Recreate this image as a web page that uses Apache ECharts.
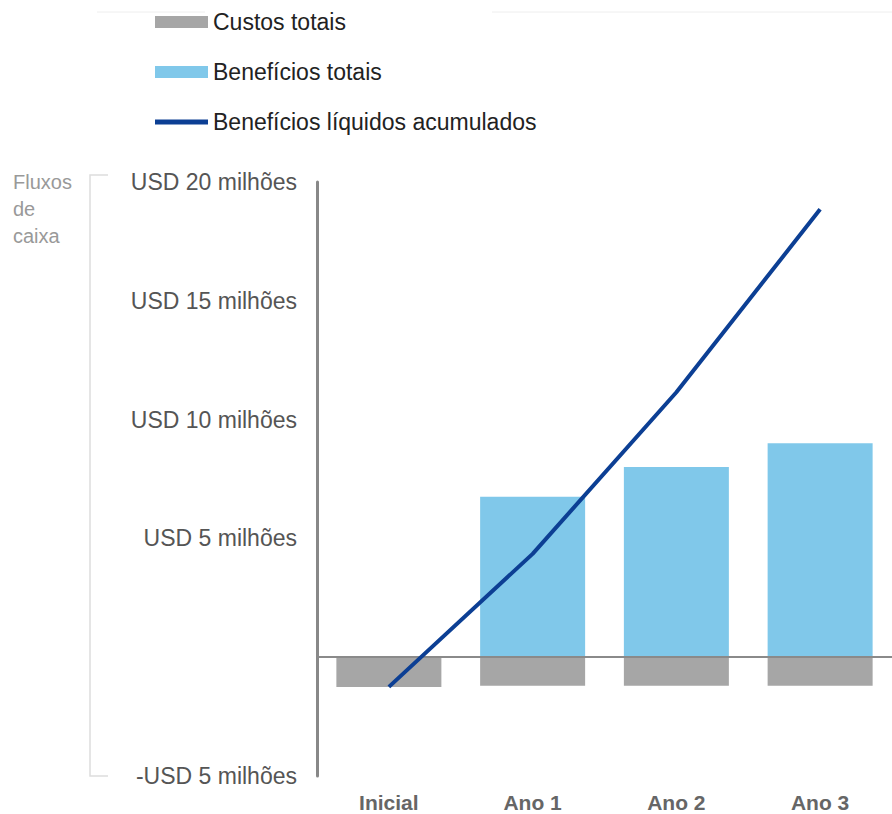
<!DOCTYPE html>
<html>
<head>
    <meta charset="utf-8">
    <title>Fluxos de caixa</title>
    <script src="https://cdn.jsdelivr.net/npm/echarts@6/dist/echarts.min.js"></script>
    <style>
        html, body { margin: 0; padding: 0; background: #fff; }
    </style>
</head>
<body>
    <div id="myChart" style="width: 892px;height:814px;"></div>
    <script>
        // dados (milhões de USD)
        var categories = ['Inicial', 'Ano 1', 'Ano 2', 'Ano 3'];
        var custos = [-1.25, -1.2, -1.2, -1.2];
        var beneficios = [0, 6.75, 8.0, 9.0];
        var acumulados = [-1.25, 4.35, 11.15, 18.85];
        var yTicks = { min: -5, max: 20, step: 5 };

        var FONT = '"Liberation Sans", Arial, sans-serif';
        var myChart = echarts.init(document.getElementById('myChart'), null, { renderer: 'svg' });

        var option = {
            animation: false,
            legend: {
                orient: 'vertical',
                left: 150,
                top: 5,
                itemWidth: 53,
                itemHeight: 12,
                itemGap: 26,
                symbolKeepAspect: true,
                textStyle: { color: '#222', fontSize: 23, fontFamily: FONT, lineHeight: 24 },
                data: [
                    { name: 'Custos totais', icon: 'rect' },
                    { name: 'Benefícios totais', icon: 'rect' },
                    { name: 'Benefícios líquidos acumulados', icon: 'path://M0,0h53v5h-53z' }
                ]
            },
            grid: { left: 317, top: 182, bottom: 38, width: 578 },
            xAxis: {
                type: 'category',
                data: categories,
                axisLine: { show: false, onZero: false },
                axisTick: { show: false },
                axisLabel: { color: '#666', fontSize: 21, fontWeight: 'bold', fontFamily: FONT, margin: 16 }
            },
            yAxis: {
                type: 'value',
                min: yTicks.min,
                max: yTicks.max,
                interval: yTicks.step,
                splitLine: { show: false },
                axisTick: { show: false },
                axisLine: { show: true, lineStyle: { color: '#888', width: 3 } },
                axisLabel: {
                    color: '#555', fontSize: 23, fontFamily: FONT, margin: 20,
                    formatter: function (v) {
                        if (v === 0) return '';
                        return (v < 0 ? '-USD ' : 'USD ') + Math.abs(v) + ' milhões';
                    }
                }
            },
            graphic: [
                {
                    type: 'text', left: 13, top: 168,
                    style: { text: 'Fluxos\nde\ncaixa', fill: '#999', font: '20px ' + FONT, lineHeight: 27 }
                },
                {
                    type: 'polyline',
                    shape: { points: [[108, 175], [90, 175], [90, 776], [108, 776]] },
                    style: { stroke: '#ddd', lineWidth: 1.5, fill: null }
                },
                { type: 'line', shape: { x1: 97, y1: 12, x2: 205, y2: 12 }, style: { stroke: '#eee', lineWidth: 1 } },
                { type: 'line', shape: { x1: 492, y1: 12, x2: 892, y2: 12 }, style: { stroke: '#eee', lineWidth: 1 } }
            ],
            series: [{
                name: 'Custos totais',
                type: 'bar',
                stack: 'fluxo',
                barWidth: 105,
                data: custos,
                itemStyle: { color: '#a6a6a6' },
                markLine: {
                    silent: true,
                    symbol: 'none',
                    label: { show: false },
                    lineStyle: { color: '#8a8a8a', width: 2, type: 'solid' },
                    data: [{ yAxis: 0 }]
                }
            }, {
                name: 'Benefícios totais',
                type: 'bar',
                stack: 'fluxo',
                barWidth: 105,
                data: beneficios,
                itemStyle: { color: '#80c8ea' }
            }, {
                name: 'Benefícios líquidos acumulados',
                type: 'line',
                data: acumulados,
                symbol: 'none',
                z: 5,
                lineStyle: { color: '#0c3f94', width: 4 },
                itemStyle: { color: '#0c3f94' }
            }]
        };
        myChart.setOption(option);
    </script>
</body>
</html>
